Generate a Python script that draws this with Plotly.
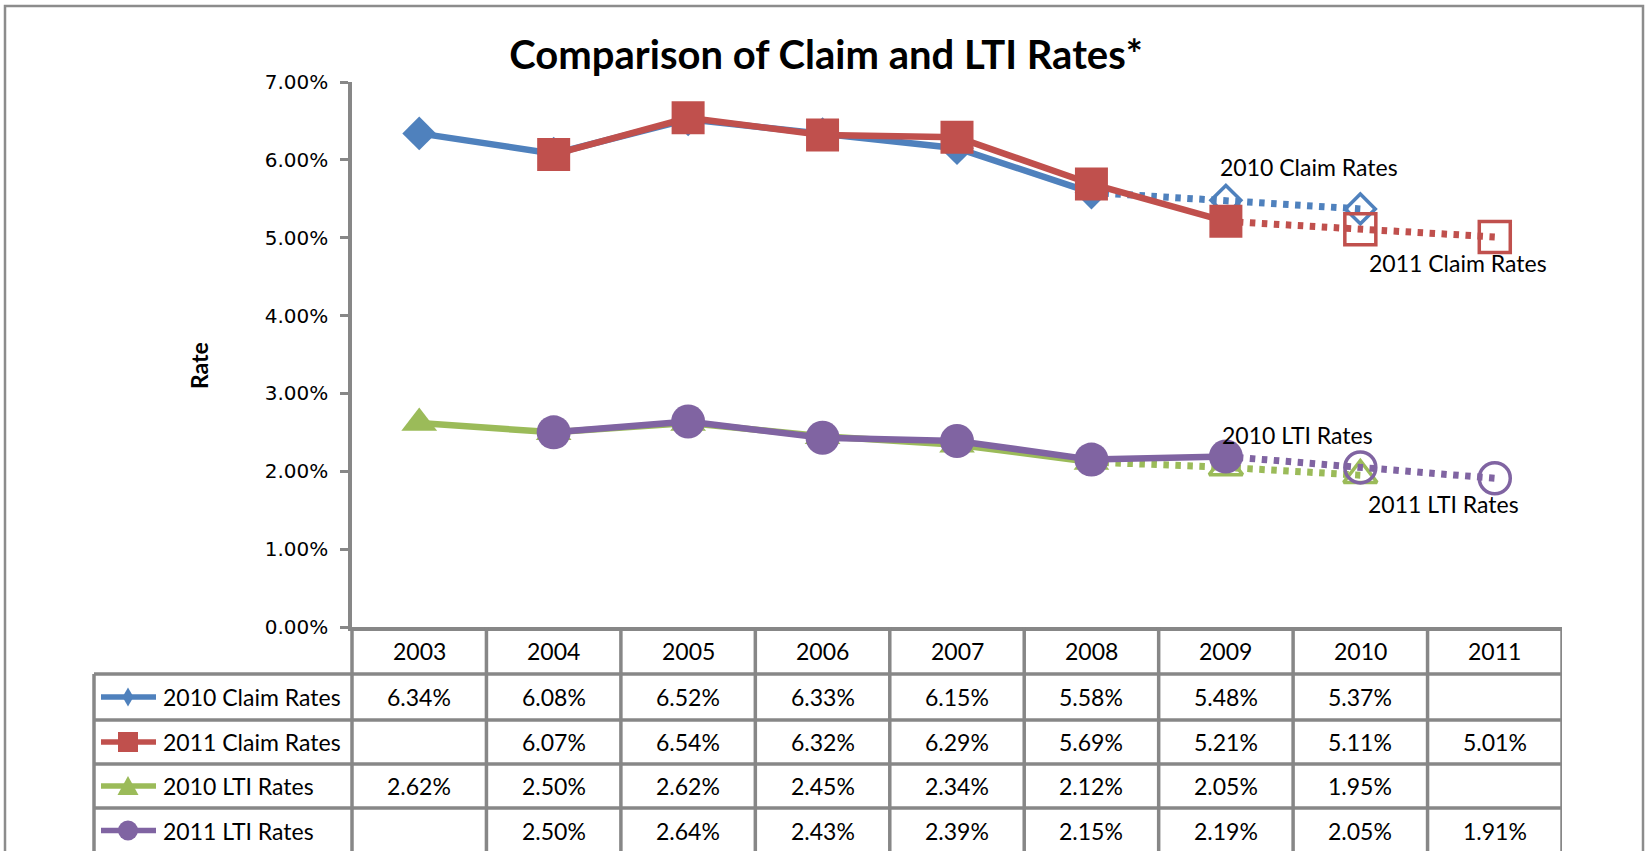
import plotly.graph_objects as go

# ---------------- data ----------------
years = ["2003", "2004", "2005", "2006", "2007", "2008", "2009", "2010", "2011"]
series_names = ["2010 Claim Rates", "2011 Claim Rates", "2010 LTI Rates", "2011 LTI Rates"]
claim_2010 = [6.34, 6.08, 6.52, 6.33, 6.15, 5.58, 5.48, 5.37, None]
claim_2011 = [None, 6.07, 6.54, 6.32, 6.29, 5.69, 5.21, 5.11, 5.01]
lti_2010 = [2.62, 2.50, 2.62, 2.45, 2.34, 2.12, 2.05, 1.95, None]
lti_2011 = [None, 2.50, 2.64, 2.43, 2.39, 2.15, 2.19, 2.05, 1.91]
projected_from = ["2009", "2010", "2009", "2010"]   # first projected year per series
y_ticks = [0, 1, 2, 3, 4, 5, 6, 7]
y_tick_labels = [f"{v:.2f}%" for v in y_ticks]
title_text = "Comparison of Claim and LTI Rates*"
y_title = "Rate"

series_values = [claim_2010, claim_2011, lti_2010, lti_2011]

# ---------------- style ----------------
W, H = 1648, 851
L, R, T, B = 352, 1562, 82, 627
GREY = "#878787"
colors = ["#4F81BD", "#C0504D", "#9BBB59", "#8064A2"]
symbols = ["diamond", "square", "triangle-up", "circle"]
legend_kinds = ["diamond", "square", "triangle", "circle"]
fill_sizes = [26, 33, 31, 34]
open_sizes = [23, 31, 29, 31]
TFONT = dict(family="Lato, Calibri, sans-serif", size=23, color="black")

def fx(x):
    return (x - L) / (R - L)

def fy(y):
    return (B - y) / (B - T)

fig = go.Figure()

for name, vals, pf, col, sym, fs, os_ in zip(series_names, series_values, projected_from,
                                            colors, symbols, fill_sizes, open_sizes):
    k = years.index(pf)
    act = [(years[i], vals[i]) for i in range(k) if vals[i] is not None]
    proj = [(years[i], vals[i]) for i in range(k - 1, len(years)) if vals[i] is not None]
    projm = [(years[i], vals[i]) for i in range(k, len(years)) if vals[i] is not None]
    fig.add_trace(go.Scatter(x=[p[0] for p in proj], y=[p[1] for p in proj], mode="lines",
                             line=dict(color=col, width=7, dash="5.5px,6.5px"),
                             showlegend=False, hoverinfo="skip"))
    fig.add_trace(go.Scatter(x=[p[0] for p in projm], y=[p[1] for p in projm], mode="markers",
                             marker=dict(symbol=sym + "-open", size=os_, color=col,
                                         line=dict(color=col, width=3.5)),
                             showlegend=False, name=name))
    fig.add_trace(go.Scatter(x=[p[0] for p in act], y=[p[1] for p in act], mode="lines+markers",
                             line=dict(color=col, width=6.5),
                             marker=dict(symbol=sym, size=fs, color=col, line=dict(width=0)),
                             showlegend=False, name=name))

# row geometry of data table (pixels)
row_lines = [B, 674, 720, 764, 808, 853]
row_centers = [(row_lines[i] + row_lines[i + 1]) / 2 for i in range(len(row_lines) - 1)]
LEG_LEFT = 94
KEY_CX = 128

shapes = []
# outer chart border
shapes.append(dict(type="rect", xref="paper", yref="paper", x0=fx(5), x1=fx(1643), y0=fy(6), y1=fy(900),
                   line=dict(color="#8C8C8C", width=2.5), fillcolor="rgba(0,0,0,0)", layer="below"))
# y-axis extension through table
shapes.append(dict(type="line", xref="paper", yref="paper", x0=0, x1=0, y0=fy(B), y1=fy(870),
                   line=dict(color=GREY, width=3.5)))
# column separators
for k in range(1, len(years) + 1):
    shapes.append(dict(type="line", xref="x", yref="paper", x0=k - 0.5, x1=k - 0.5, y0=fy(B), y1=fy(870),
                       line=dict(color=GREY, width=3.5)))
# horizontal row lines
for yl in row_lines[1:-1]:
    shapes.append(dict(type="line", xref="paper", yref="paper", x0=fx(LEG_LEFT), x1=1, y0=fy(yl), y1=fy(yl),
                       line=dict(color=GREY, width=3.5)))
# legend column left border
shapes.append(dict(type="line", xref="paper", yref="paper", x0=fx(LEG_LEFT), x1=fx(LEG_LEFT),
                   y0=fy(row_lines[1]), y1=fy(870), line=dict(color=GREY, width=3.5)))

# legend keys (line + marker glyph)
def key_path(kind, cx, cy):
    if kind == "diamond":
        pts = [(cx, cy - 9.5), (cx + 5.5, cy), (cx, cy + 9.5), (cx - 5.5, cy)]
    elif kind == "square":
        pts = [(cx - 10, cy - 10), (cx + 10, cy - 10), (cx + 10, cy + 10), (cx - 10, cy + 10)]
    else:  # triangle
        pts = [(cx, cy - 10), (cx + 10.5, cy + 9), (cx - 10.5, cy + 9)]
    return "M " + " L ".join(f"{fx(x):.6f},{fy(y):.6f}" for x, y in pts) + " Z"

for i, (col, kind) in enumerate(zip(colors, legend_kinds)):
    cy = row_centers[i + 1]
    shapes.append(dict(type="line", xref="paper", yref="paper", x0=fx(101), x1=fx(156),
                       y0=fy(cy), y1=fy(cy), line=dict(color=col, width=5.5)))
    if kind == "circle":
        shapes.append(dict(type="circle", xref="paper", yref="paper", x0=fx(KEY_CX - 10), x1=fx(KEY_CX + 10),
                           y0=fy(cy + 10), y1=fy(cy - 10), fillcolor=col, line=dict(width=0)))
    else:
        shapes.append(dict(type="path", xref="paper", yref="paper", path=key_path(kind, KEY_CX, cy),
                           fillcolor=col, line=dict(width=0)))

annotations = []
# header years
for i, yr in enumerate(years):
    annotations.append(dict(x=i, y=fy(row_centers[0]), xref="x", yref="paper", text=yr,
                            showarrow=False, font=TFONT, xanchor="center", yanchor="middle"))
# table rows
for r, (name, vals) in enumerate(zip(series_names, series_values)):
    yc = fy(row_centers[r + 1])
    annotations.append(dict(x=fx(161), y=yc, xref="paper", yref="paper", text=name, showarrow=False,
                            font=TFONT, xanchor="left", yanchor="middle"))
    for i, v in enumerate(vals):
        if v is None:
            continue
        annotations.append(dict(x=i, y=yc, xref="x", yref="paper", text=f"{v:.2f}%", showarrow=False,
                                font=TFONT, xanchor="center", yanchor="middle"))
# series labels inside plot
label_pos = [(1218, 167), (1367, 263), (1220, 435), (1366, 504)]
for name, (lx, ly) in zip(series_names, label_pos):
    annotations.append(dict(x=fx(lx), y=fy(ly), xref="paper", yref="paper", text=name, showarrow=False,
                            font=TFONT, xanchor="left", yanchor="middle"))
# y axis title
annotations.append(dict(x=fx(199), y=fy(365), xref="paper", yref="paper", text=f"<b>{y_title}</b>",
                        textangle=-90, showarrow=False, xanchor="center", yanchor="middle",
                        font=dict(family="Lato, Calibri, sans-serif", size=23, color="black")))

fig.update_layout(
    width=W, height=H, autosize=False,
    margin=dict(l=L, r=W - R, t=T, b=H - B, pad=0),
    paper_bgcolor="white", plot_bgcolor="white",
    title=dict(text=f"<b>{title_text}</b>", x=826 / W, xanchor="center", y=1 - 55 / H, yanchor="middle",
               xref="container", yref="container",
               font=dict(family="Lato, Calibri, sans-serif", size=40, color="black")),
    xaxis=dict(type="category", categoryorder="array", categoryarray=years, range=[-0.5, len(years) - 0.5],
               showticklabels=False, ticks="", showgrid=False, zeroline=False,
               showline=True, linecolor=GREY, linewidth=3.5),
    yaxis=dict(range=[0, 7], tickvals=y_ticks, ticktext=y_tick_labels,
               showgrid=False, zeroline=False, showline=True, linecolor=GREY, linewidth=3.5,
               ticks="outside", ticklen=8, tickwidth=3, tickcolor=GREY, ticklabelstandoff=8,
               tickfont=dict(family="DejaVu Sans", size=20, color="black")),
    shapes=shapes, annotations=annotations, showlegend=False,
)

fig.write_html("out.html", config={"displayModeBar": False},
               post_script="document.body.style.margin='0px';document.body.style.overflow='hidden';")
